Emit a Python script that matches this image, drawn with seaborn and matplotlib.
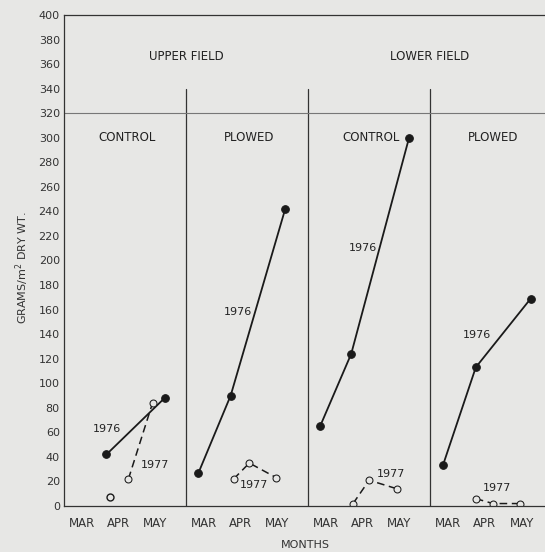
import numpy as np
import pandas as pd
import matplotlib
matplotlib.use("Agg")
import matplotlib.pyplot as plt
import seaborn as sns

# Data (x = position in months inside each panel: MAR 0-1, APR 1-2, MAY 2-3)
panels = ['upper_control', 'upper_plowed', 'lower_control', 'lower_plowed']
panel_titles = ['CONTROL', 'PLOWED', 'CONTROL', 'PLOWED']
field_titles = ['UPPER FIELD', 'LOWER FIELD']
month_labels = ['MAR', 'APR', 'MAY']

x_1976 = {
    'upper_control': [1.16, 2.75],
    'upper_plowed': [0.34, 1.22, 2.71],
    'lower_control': [0.33, 1.18, 2.76],
    'lower_plowed': [0.35, 1.25, 2.75],
}
y_1976 = {
    'upper_control': [42, 88],
    'upper_plowed': [27, 90, 242],
    'lower_control': [65, 124, 300],
    'lower_plowed': [33, 113, 169],
}
x_1977 = {
    'upper_control': [1.76, 2.42],
    'upper_plowed': [1.30, 1.73, 2.47],
    'lower_control': [1.23, 1.67, 2.43],
    'lower_plowed': [1.25, 1.72, 2.45],
}
y_1977 = {
    'upper_control': [22, 84],
    'upper_plowed': [22, 35, 23],
    'lower_control': [2, 21, 14],
    'lower_plowed': [6, 2, 2],
}
# lone 1977 point in upper control, not joined to the line
x_1977_single = [1.25]
y_1977_single = [7]

# label positions for year text (x in months within panel, y in g/m2)
label_1976 = {'upper_control': (1.18, 63), 'upper_plowed': (1.41, 158),
              'lower_control': (1.49, 210), 'lower_plowed': (1.28, 139)}
label_1977 = {'upper_control': (2.49, 33), 'upper_plowed': (1.87, 17),
              'lower_control': (2.27, 26), 'lower_plowed': (1.83, 15)}

panel_width = 10 / 3
bg = '#e7e7e5'

sns.set_style('white')
plt.rcParams['font.family'] = ['DejaVu Sans']
plt.rcParams['font.size'] = 8.5

fig = plt.figure(figsize=(5.45, 5.52), dpi=100, facecolor=bg)
ax = fig.add_axes([64 / 545, 46 / 552, 1 - 64 / 545, 491 / 552])
ax.set_facecolor(bg)

for i, p in enumerate(panels):
    off = i * panel_width
    d76 = pd.DataFrame({'x': np.array(x_1976[p]) + off, 'y': y_1976[p]})
    d77 = pd.DataFrame({'x': np.array(x_1977[p]) + off, 'y': y_1977[p]})
    sns.lineplot(data=d76, x='x', y='y', ax=ax, color='#1a1a1a', lw=1.3,
                 marker='o', markersize=5.5, markeredgecolor='#1a1a1a', sort=False)
    sns.lineplot(data=d77, x='x', y='y', ax=ax, color='#1a1a1a', lw=1.1,
                 linestyle=(0, (5, 3)), marker='o', markersize=5,
                 markerfacecolor=bg, markeredgecolor='#1a1a1a', sort=False)
    tx, ty = label_1976[p]
    ax.text(tx + off, ty, '1976', ha='center', va='center', fontsize=8, color='#222')
    tx, ty = label_1977[p]
    ax.text(tx + off, ty, '1977', ha='center', va='center', fontsize=8, color='#222')
    ax.text(off + 1.72, 300, panel_titles[i], ha='center', va='center', fontsize=8.5, color='#222')
    if i > 0:
        ax.plot([off, off], [0, 340], color='#333', lw=0.9)

ax.plot(x_1977_single, y_1977_single, 'o', ms=5, mfc=bg, mec='#1a1a1a')

ax.axhline(320, color='#777', lw=0.8)
ax.text(panel_width, 366, field_titles[0], ha='center', va='center', fontsize=8.5, color='#222')
ax.text(3 * panel_width, 366, field_titles[1], ha='center', va='center', fontsize=8.5, color='#222')

ax.set_xlim(0, 13.14)
ax.set_ylim(0, 400)
ax.set_yticks(np.arange(0, 401, 20))
centers = [i * panel_width + m + 0.5 for i in range(4) for m in range(3)]
ax.set_xticks(centers)
ax.set_xticklabels(month_labels * 4)
bounds = [i * panel_width + m for i in range(4) for m in (1, 2, 3)]
ax.set_xticks(bounds, minor=True)
ax.tick_params(axis='x', which='major', length=0, pad=8, labelsize=8.5, colors='#333')
ax.tick_params(axis='x', which='minor', direction='in', length=6, width=0.8, color='#444')
ax.tick_params(axis='y', direction='in', length=8, width=0.8, color='#444',
               labelsize=8, colors='#333', pad=3)

for s in ['left', 'bottom', 'top']:
    ax.spines[s].set_color('#333')
    ax.spines[s].set_linewidth(0.9)
ax.spines['right'].set_visible(False)

ax.set_xlabel('')
ax.set_ylabel('')
fig.text(305 / 545, 1 - 545 / 552, 'MONTHS', ha='center', va='center', fontsize=8, color='#333')
fig.text(22 / 545, 1 - 268 / 552, 'GRAMS/m$^2$ DRY WT.', ha='center', va='center',
         rotation=90, fontsize=8, color='#333')

fig.savefig('out.png', dpi=100, facecolor=bg)
